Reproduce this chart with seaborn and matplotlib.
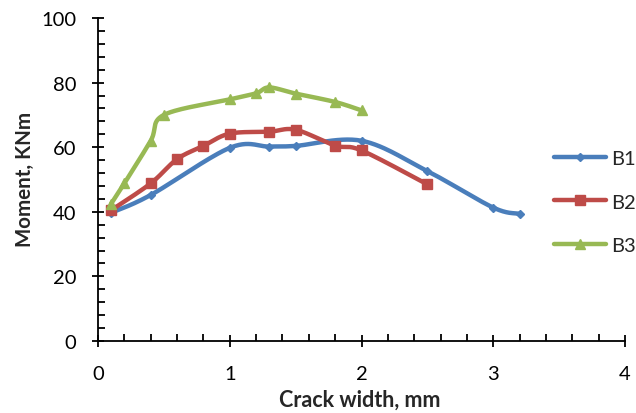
import numpy as np
import pandas as pd
import matplotlib
matplotlib.use("Agg")
import matplotlib.pyplot as plt
from matplotlib.lines import Line2D
from matplotlib.ticker import MultipleLocator
import seaborn as sns

# Data
b1_x = [0.1, 0.4, 1.0, 1.3, 1.5, 2.0, 2.5, 3.0, 3.2]
b1_y = [39.7, 45.2, 59.8, 60.2, 60.4, 62.0, 52.6, 41.3, 39.4]
b2_x = [0.1, 0.4, 0.6, 0.8, 1.0, 1.3, 1.5, 1.8, 2.0, 2.5]
b2_y = [40.5, 48.8, 56.3, 60.4, 64.2, 64.8, 65.4, 60.5, 59.0, 48.5]
b3_x = [0.1, 0.2, 0.4, 0.5, 1.0, 1.2, 1.3, 1.5, 1.8, 2.0]
b3_y = [42.5, 48.8, 62.0, 70.0, 74.8, 76.7, 78.5, 76.6, 74.0, 71.4]
labels = ["B1", "B2", "B3"]
colors = ["#4A7EBB", "#BE4B48", "#98B954"]
markers = ["D", "s", "^"]
msizes = [4.5, 7, 7]

sns.set_theme(style="white")
plt.rcParams['font.family'] = ['Lato', 'DejaVu Sans']


def smooth(xs, ys, n=30):
    # Excel-style smoothed line (cubic Bezier / Catmull-Rom)
    P = np.column_stack([xs, ys]).astype(float)
    P = np.vstack([P[0], P, P[-1]])
    out = []
    t = np.linspace(0, 1, n)[:, None]
    for i in range(1, len(P) - 2):
        p0, p1, p2, p3 = P[i - 1], P[i], P[i + 1], P[i + 2]
        c1 = p1 + (p2 - p0) / 6.0
        c2 = p2 - (p3 - p1) / 6.0
        seg = ((1 - t) ** 3) * p1 + 3 * ((1 - t) ** 2) * t * c1 + 3 * (1 - t) * t ** 2 * c2 + t ** 3 * p2
        out.append(seg if i == 1 else seg[1:])
    s = np.vstack(out)
    return s[:, 0], s[:, 1]


fig = plt.figure(figsize=(6.36, 4.14), dpi=100)
ax = fig.add_axes([98 / 636, 1 - 342 / 414, (625 - 98) / 636, (342 - 19) / 414])

series = [(b1_x, b1_y), (b2_x, b2_y), (b3_x, b3_y)]
handles = []
for (xs, ys), lab, c, m, ms in zip(series, labels, colors, markers, msizes):
    sx, sy = smooth(xs, ys)
    df = pd.DataFrame({"x": sx, "y": sy})
    sns.lineplot(data=df, x="x", y="y", sort=False, estimator=None, ax=ax,
                 color=c, linewidth=3.2, solid_capstyle="round", legend=False)
    ax.plot(xs, ys, linestyle="none", marker=m, markersize=ms, color=c,
            markeredgecolor=c)
    handles.append(Line2D([0], [0], color=c, lw=3.2, marker=m, markersize=ms,
                          solid_capstyle="round"))

ax.set_xlim(0, 4)
ax.set_ylim(0, 100)
ax.xaxis.set_major_locator(MultipleLocator(1))
ax.xaxis.set_minor_locator(MultipleLocator(0.2))
ax.yaxis.set_major_locator(MultipleLocator(20))
ax.yaxis.set_minor_locator(MultipleLocator(4))
ax.tick_params(which="major", direction="inout", length=9, width=1.3,
               colors="black", labelsize=14.5)
ax.tick_params(axis="y", which="major", pad=11)
ax.tick_params(axis="x", which="major", pad=13)
ax.tick_params(which="minor", direction="in", length=5, width=1.3,
               colors="black")
ax.tick_params(axis="x", which="both", bottom=True)
ax.tick_params(axis="y", which="both", left=True)
for s in ["top", "right"]:
    ax.spines[s].set_visible(False)
for s in ["left", "bottom"]:
    ax.spines[s].set_color("black")
    ax.spines[s].set_linewidth(1.3)

ax.set_xlabel("Crack width, mm", fontsize=15.5, fontweight="bold", va="center")
ax.set_ylabel("Moment, KNm", fontsize=14.8, fontweight="bold", va="center")
ax.xaxis.set_label_coords((360 - 98) / 527, (342 - 400) / 323)
ax.yaxis.set_label_coords((25 - 98) / 527, (342 - 179) / 323)

fig.legend(handles, labels, loc="center left",
           bbox_to_anchor=(554 / 636, 1 - 203 / 414), frameon=False,
           borderpad=0, borderaxespad=0,
           fontsize=14.5, handlelength=2.6, handletextpad=0.25,
           labelspacing=1.3)

fig.savefig("out.png", dpi=100)
